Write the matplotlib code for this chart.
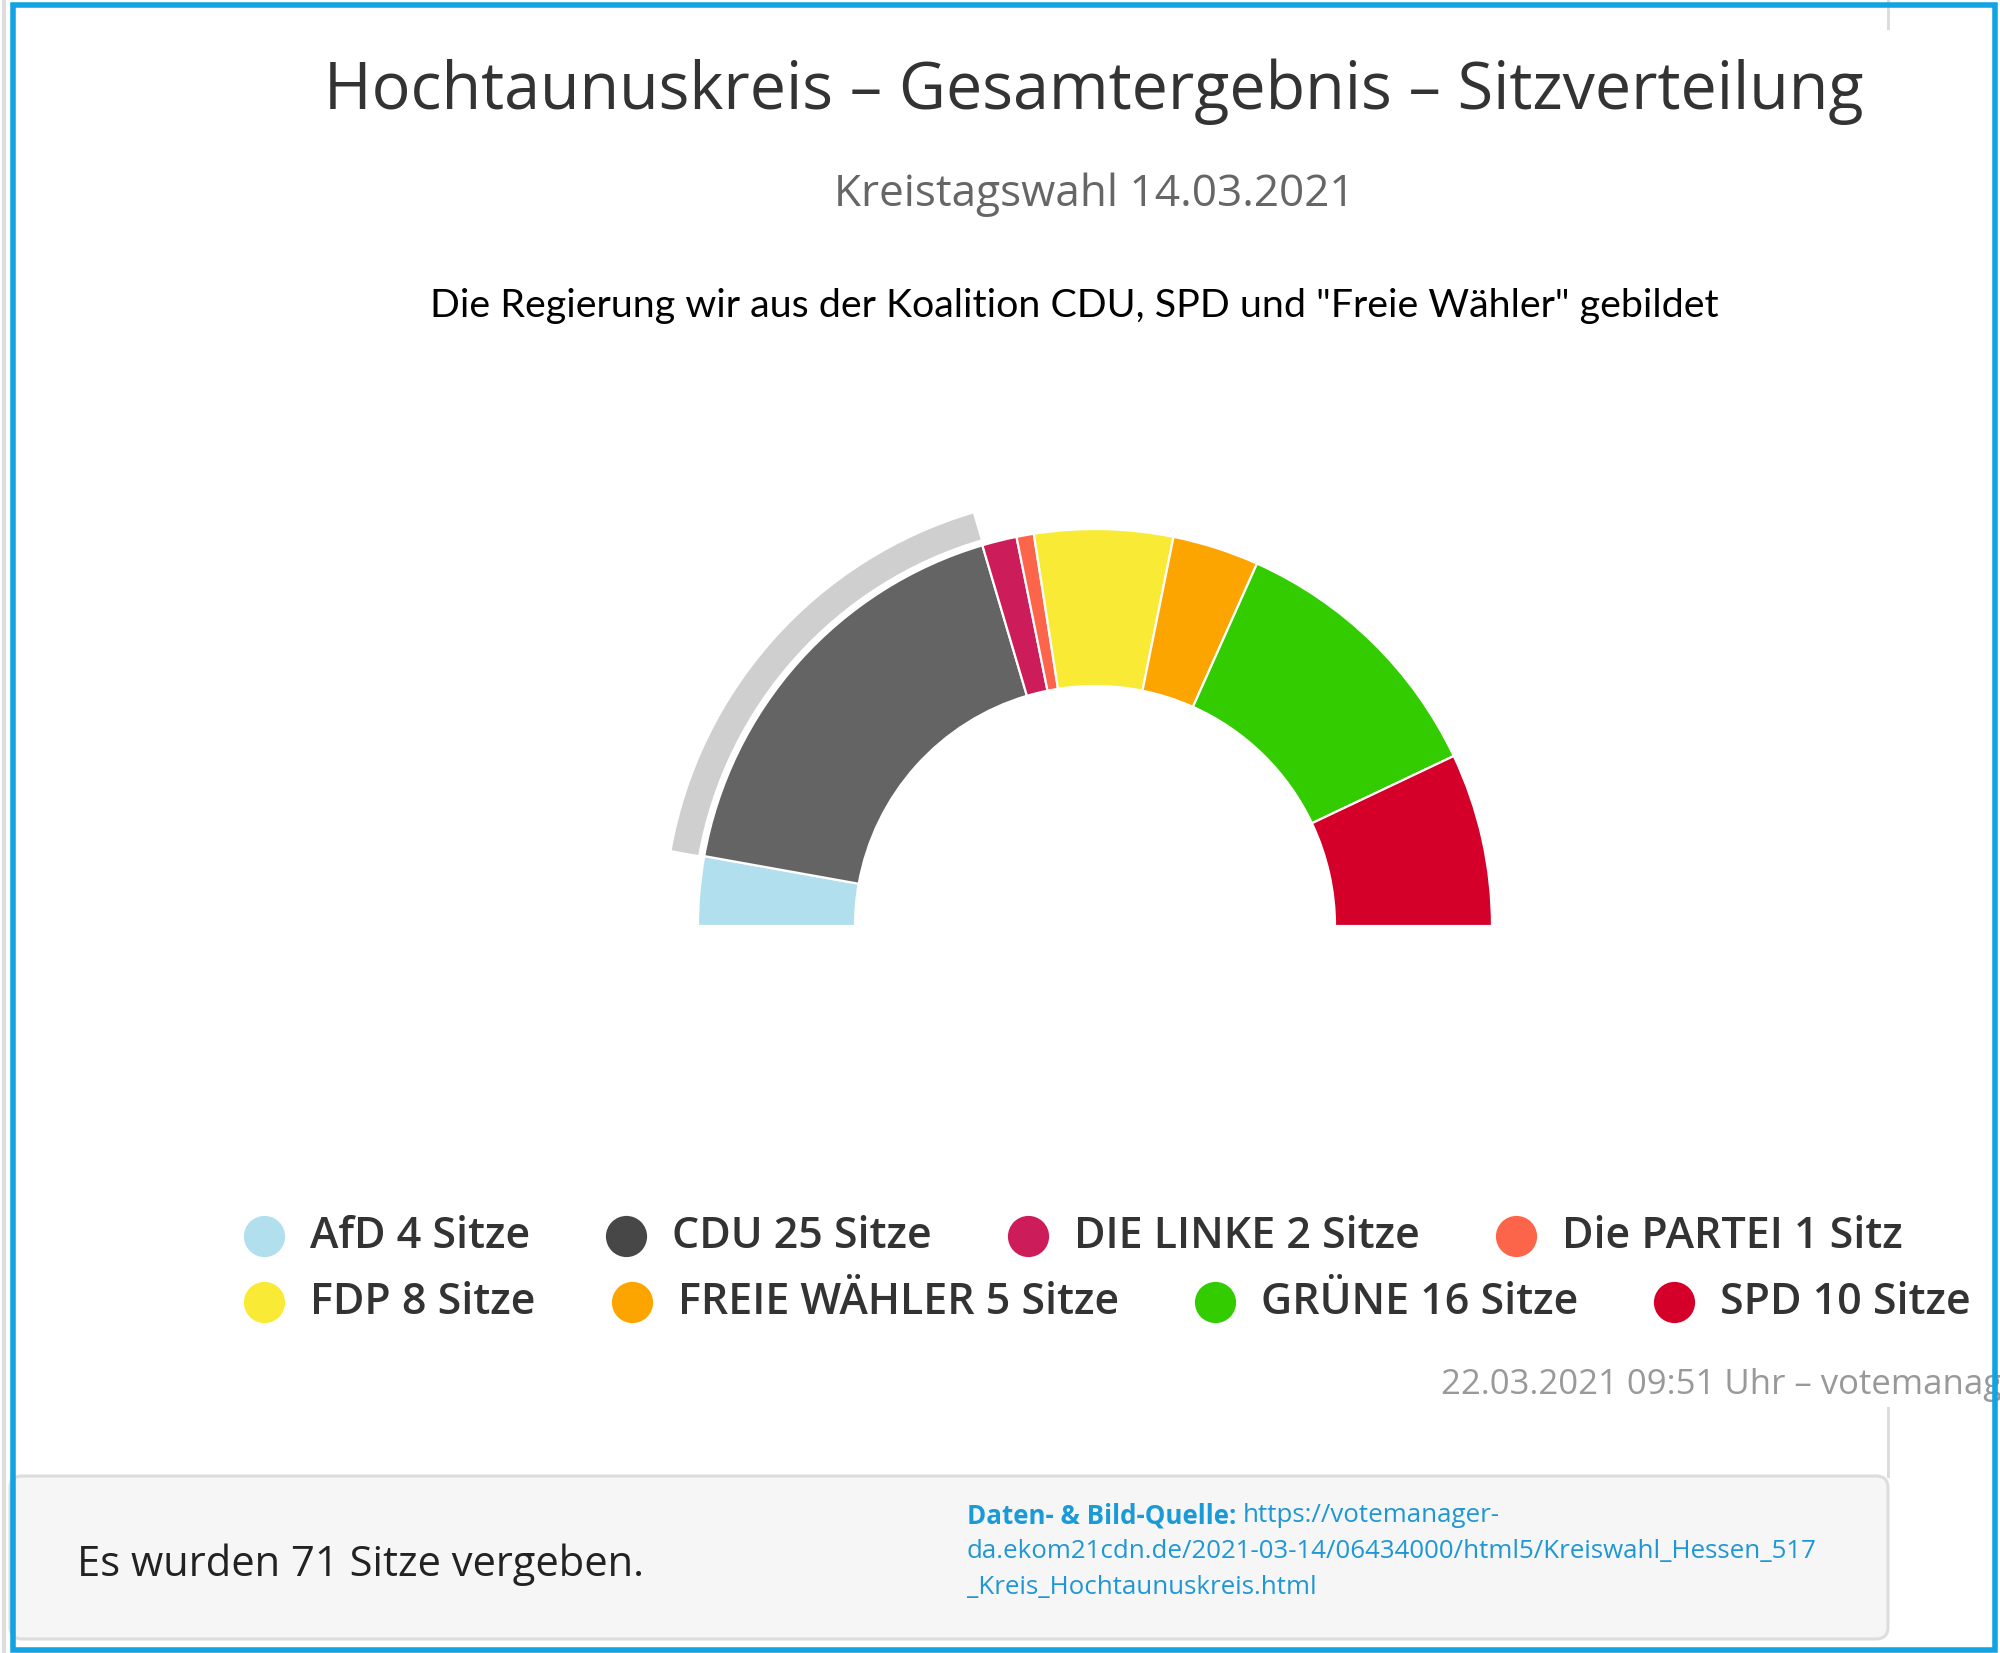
import matplotlib
matplotlib.use("Agg")
import matplotlib.pyplot as plt
from matplotlib.patches import Rectangle, FancyBboxPatch

# seat distribution Kreistagswahl Hochtaunuskreis 2021
parties = ["AfD", "CDU", "DIE LINKE", "Die PARTEI", "FDP", "FREIE WÄHLER", "GRÜNE", "SPD"]
seats = [4, 25, 2, 1, 8, 5, 16, 10]
colors = ["#b2dfed", "#474747", "#cc1d5a", "#fd654a", "#f9eb35", "#fca500", "#33cc00", "#d4002a"]
hovered = "CDU"
hover_color = "#646464"

title = "Hochtaunuskreis – Gesamtergebnis – Sitzverteilung"
subtitle = "Kreistagswahl 14.03.2021"
note = 'Die Regierung wir aus der Koalition CDU, SPD und "Freie Wähler" gebildet'
stamp = "22.03.2021 09:51 Uhr – votemanager.de"
footer = "Es wurden 71 Sitze vergeben."
src_label = "Daten- & Bild-Quelle: "
src_lines = ["https://votemanager-",
             "da.ekom21cdn.de/2021-03-14/06434000/html5/Kreiswahl_Hessen_517",
             "_Kreis_Hochtaunuskreis.html"]

W, H = 2000, 1653
fig = plt.figure(figsize=(W / 100, H / 100), dpi=100)
ax = fig.add_axes([0, 0, 1, 1])
font = "Open Sans"

# half donut: the seats plus an invisible lower half
total = sum(seats)
cx, cy = 1095, 727
R, r = 397, 240
chart_colors = [hover_color if p == hovered else c for p, c in zip(parties, colors)]
wedges, _ = ax.pie(seats + [total], colors=chart_colors + ["none"], startangle=180,
                   counterclock=False, center=(cx, cy), radius=R,
                   wedgeprops=dict(width=R - r, edgecolor="white", linewidth=1.6))
wedges[-1].set_visible(False)

# grey hover halo around CDU
halo_colors = ["#cfcfcf" if p == hovered else "none" for p in parties] + ["none"]
halo, _ = ax.pie(seats + [total], colors=halo_colors, startangle=180, counterclock=False,
                 center=(cx, cy), radius=430, wedgeprops=dict(width=27, linewidth=0))

ax.set_xlim(0, W)
ax.set_ylim(0, H)
ax.set_aspect("equal")
ax.axis("off")

# titles
ax.text(1094, 1561, title, ha="center", va="center", fontsize=46.5, color="#333333", family=font)
ax.text(1094, 1458, subtitle, ha="center", va="center", fontsize=31.8, color="#666666", family=font)
ax.text(1074, 1347, note, ha="center", va="center", fontsize=28.4, color="black", family="Lato")

# legend, flowing like the web chart
renderer = fig.canvas.get_renderer()
rows = [list(range(0, 4)), list(range(4, 8))]
row_y = [417, 351]
for row, y in zip(rows, row_y):
    x = 264
    for i in row:
        ax.scatter([x], [y], s=880, color=colors[i], linewidths=0, zorder=3)
        label = f"{parties[i]} {seats[i]} " + ("Sitz" if seats[i] == 1 else "Sitze")
        t = ax.text(x + 46, y, label, ha="left", va="center", fontsize=31,
                    fontweight="semibold", color="#333333", family=font)
        x += 46 + t.get_window_extent(renderer).width + 96

# timestamp, cut off by the frame
clip = Rectangle((0, 0), 1990, H, transform=ax.transData)
ts = ax.text(1441, 268, stamp, ha="left", va="center", fontsize=25, color="#999999", family=font)
ts.set_clip_path(clip)

# footer box
ax.add_patch(FancyBboxPatch((10, 14), 1878, 163, boxstyle="round,pad=0,rounding_size=12",
                            facecolor="#f6f6f6", edgecolor="#dddddd", linewidth=2.2, zorder=1))
ax.plot([1888, 1888], [177, 245], color="#dddddd", linewidth=2.2)
ax.plot([1888, 1888], [1625, 1653], color="#dddddd", linewidth=2.2)
ax.text(77, 88, footer, ha="left", va="center", fontsize=30, color="#222222", family=font, zorder=2)

lab = ax.text(967, 137, src_label, ha="left", va="center", fontsize=18.6, fontweight="bold",
              color="#1a9ad6", family=font, zorder=2)
lab_w = lab.get_window_extent(renderer).width
for k, (line, y) in enumerate(zip(src_lines, [137, 101, 65])):
    ax.text(967 + (lab_w if k == 0 else 0), y, line, ha="left", va="center", fontsize=18.6,
            color="#1f97d5", family=font, zorder=2)

# outer blue frame and grey edge
ax.plot([4, 4], [0, H], color="#dddddd", linewidth=3)
ax.add_patch(Rectangle((12.5, 3.5), 1982, 1645, facecolor="none", edgecolor="#12a3e2",
                       linewidth=4, zorder=5))

fig.savefig("out.png", dpi=100)
